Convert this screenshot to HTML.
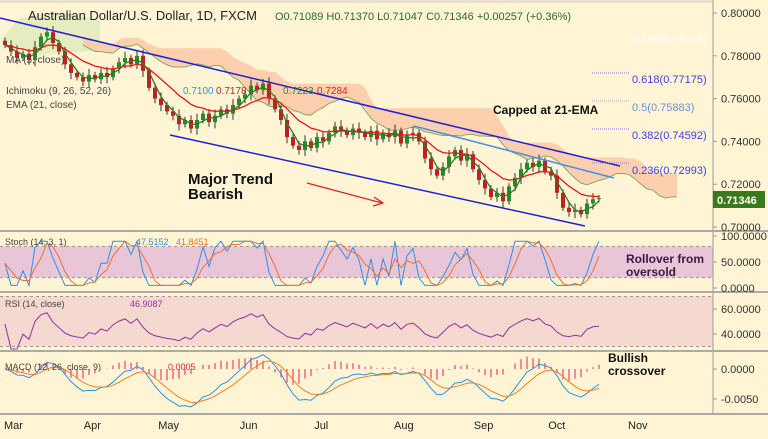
<!DOCTYPE html>
<html><head><meta charset="utf-8"><style>
body{margin:0;background:#fff5d4;font-family:"Liberation Sans",sans-serif}
svg{display:block}
</style></head><body>
<svg id="c" width="768" height="439" viewBox="0 0 768 439">
<rect x="0" y="0" width="768" height="439" fill="#fff5d4"/>
<rect x="0" y="0" width="768" height="3" fill="#e6e0cc"/>
<g id="cloud"></g>
<g id="panelBg"></g>
<g id="marks"></g>
<g id="axes"></g>
<g>
<line x1="0" y1="18" x2="620" y2="166" stroke="#2020d0" stroke-width="1.5"/>
<line x1="170" y1="135" x2="585" y2="226" stroke="#2020d0" stroke-width="1.5"/>
<line x1="414" y1="126" x2="614" y2="178" stroke="#4a90e0" stroke-width="1.5"/>
<line x1="307" y1="183" x2="382" y2="203" stroke="#e02020" stroke-width="1.3"/>
<polyline points="374,197 383,203 373,206" fill="none" stroke="#e02020" stroke-width="1.3"/>
<text x="188" y="184" font-size="15" font-weight="bold" fill="#111">Major Trend</text>
<text x="188" y="199" font-size="15" font-weight="bold" fill="#111">Bearish</text>
<text x="493" y="114" font-size="12" font-weight="bold" fill="#111">Capped at 21-EMA</text>
<text x="626" y="263" font-size="12" font-weight="bold" fill="#3a1a40">Rollover from</text>
<text x="626" y="276" font-size="12" font-weight="bold" fill="#3a1a40">oversold</text>
<text x="608" y="362" font-size="12" font-weight="bold" fill="#111">Bullish</text>
<text x="608" y="375" font-size="12" font-weight="bold" fill="#111">crossover</text>
<g font-size="11">
<text x="632" y="43" fill="#fff">0.786(0.79015)</text>
<line x1="592" y1="73" x2="629" y2="73" stroke="#8080e0" stroke-dasharray="1,1"/>
<text x="632" y="83" fill="#4040e0">0.618(0.77175)</text>
<line x1="592" y1="101" x2="629" y2="101" stroke="#a0b0e0" stroke-dasharray="1,1"/>
<text x="632" y="111" fill="#6a90e0">0.5(0.75883)</text>
<line x1="592" y1="129" x2="629" y2="129" stroke="#8080e0" stroke-dasharray="1,1"/>
<text x="632" y="139" fill="#4040e0">0.382(0.74592)</text>
<line x1="592" y1="163" x2="629" y2="163" stroke="#8080e0" stroke-dasharray="1,1"/>
<text x="632" y="174" fill="#4040e0">0.236(0.72993)</text>
</g>
</g>
<g>
<text x="28" y="20" font-size="13" fill="#222">Australian Dollar/U.S. Dollar, 1D, FXCM</text>
<text x="275" y="20" font-size="11" fill="#2a6a2a">O0.71089  H0.71370  L0.71047  C0.71346  +0.00257 (+0.36%)</text>
<text x="6" y="94" font-size="10" fill="#444">Ichimoku (9, 26, 52, 26)</text>
<text x="183" y="94" font-size="10" fill="#3090e0">0.7100</text>
<text x="216" y="94" font-size="10" fill="#a03030">0.7178</text>
<text x="283" y="94" font-size="10" fill="#2a8a2a">0.7223</text>
<text x="317" y="94" font-size="10" fill="#e02020">0.7284</text>
<text x="6" y="108" font-size="10" fill="#444">EMA (21, close)</text>
<text x="6" y="63" font-size="10" fill="#444">MA (5, close)</text>
<text x="5" y="245" font-size="9" fill="#444">Stoch (14, 3, 1)</text>
<text x="136" y="245" font-size="9" fill="#3090e0">47.5152</text>
<text x="176" y="245" font-size="9" fill="#f07020">41.8451</text>
<text x="5" y="307" font-size="9" fill="#444">RSI (14, close)</text>
<text x="130" y="307" font-size="9" fill="#9030a0">46.9087</text>
<text x="5" y="370" font-size="9" fill="#444">MACD (12, 26, close, 9)</text>
<text x="168" y="370" font-size="9" fill="#e02050">0.0005</text>
</g>
</svg>
<script>
const closes=[.785,.782,.779,.781,.778,.784,.789,.791,.786,.782,.776,.772,.770,.768,.771,.769,.772,.770,.774,.777,.779,.776,.780,.773,.765,.760,.757,.754,.752,.748,.750,.746,.750,.753,.749,.752,.755,.753,.757,.760,.762,.766,.764,.767,.760,.755,.750,.742,.738,.736,.740,.737,.742,.740,.744,.747,.745,.743,.746,.744,.742,.745,.741,.744,.742,.745,.739,.743,.744,.740,.732,.727,.724,.728,.733,.736,.731,.734,.727,.722,.718,.714,.716,.712,.719,.723,.727,.730,.728,.731,.726,.724,.716,.709,.707,.708,.706,.711,.713,.7135];
const priceTicks=[0.80,0.78,0.76,0.74,0.72,0.70];
const stochTicks=[100,50,0];
const rsiTicks=[60,40];
const macdTicks=[0,-0.005];
const months=["Mar","Apr","May","Jun","Jul","Aug","Sep","Oct","Nov"];
const monthIdx=[1,14.3,26.7,40.3,52.7,66,79.3,91.7,105];
const NS='http://www.w3.org/2000/svg';
const X=i=>5+i*6;
const Y=p=>13+(0.80-p)*2140;
const YS=v=>288-v*0.52;
const YR=v=>334-(v-40)*1.25;
const YM=v=>369-v*6000;
function el(tag,attrs,parent){const e=document.createElementNS(NS,tag);for(const k in attrs)e.setAttribute(k,attrs[k]);parent.appendChild(e);return e;}
const marksG=document.getElementById('marks'),axesG=document.getElementById('axes'),cloudG=document.getElementById('cloud'),bandG=document.getElementById('panelBg');
const n=closes.length;
function ema(a,p){const k=2/(p+1);let o=[a[0]];for(let i=1;i<a.length;i++)o.push(a[i]*k+o[i-1]*(1-k));return o;}
function hl(i,p){let h=-1,l=9;for(let j=Math.max(0,i-p+1);j<=i;j++){h=Math.max(h,closes[j]);l=Math.min(l,closes[j]);}return (h+l)/2;}
const shift=13;const cTop=[],cBot=[];
for(let i=0;i<n;i++){const a=(hl(i,5)+hl(i,13))/2,b=hl(i,26)+0.004;cTop.push([X(i+shift),Y(Math.max(a,b))]);cBot.push([X(i+shift),Y(Math.min(a,b))]);}
const ptsT=cTop.map(p=>p[0]+','+p[1]).join(' '),ptsB=cBot.slice().reverse().map(p=>p[0]+','+p[1]).join(' ');
const cg=el('polygon',{points:'0,40 20,18 60,12 100,20 100,50 40,55 0,40',fill:'#d8e8b8',opacity:'0.7'},cloudG);


const cp=el('polygon',{points:ptsT+' '+ptsB,fill:'#fbc8a8',opacity:'0.85'},cloudG);


const cl=el('polyline',{points:cBot.map(p=>p.join(',')).join(' '),fill:'none',stroke:'#8aa860','stroke-width':1},cloudG);


const b1=el('rect',{x:0,y:YS(80),width:713,height:YS(20)-YS(80),fill:'#e8c6d8'},bandG);


const b2=el('rect',{x:0,y:YR(70),width:713,height:YR(30)-YR(70),fill:'#f5d8d0'},bandG);


[YS(80),YS(20),YR(70),YR(30)].forEach(v=>{const l=el('line',{x1:0,x2:713,y1:v,y2:v,stroke:'#a09090','stroke-dasharray':'3,3'},bandG);

});
for(let i=0;i<n;i++){const o=i?closes[i-1]:closes[0]+0.002,c=closes[i];const up=c>=o;const col=up?'#2a8a2a':'#c02020';
 const w=0.0015+(i%3)*0.0007;
 const wk=el('line',{x1:X(i),x2:X(i),y1:Y(Math.max(o,c)+w),y2:Y(Math.min(o,c)-w),stroke:'#333','stroke-width':1},marksG);
 
 
 const r=el('rect',{x:X(i)-2,y:Y(Math.max(o,c)),width:4,height:Math.max(1,Math.abs(Y(o)-Y(c))),fill:col},marksG);
 
 }
const e21=ema(closes,11);
const pe=el('polyline',{points:e21.map((v,i)=>X(i)+','+Y(v)).join(' '),fill:'none',stroke:'#e81818','stroke-width':1.3},marksG);


const pt=el('polyline',{points:closes.map((v,i)=>X(i)+','+Y(hl(i,3))).join(' '),fill:'none',stroke:'#2a7a2a','stroke-width':1.3},marksG);


const K=[];for(let i=0;i<n;i++){let h=-1,l=9;for(let j=Math.max(0,i-6);j<=i;j++){h=Math.max(h,closes[j]);l=Math.min(l,closes[j]);}K.push(h>l?(closes[i]-l)/(h-l)*100:50);}
const Ks=K.map(v=>5+v*0.85);
const D=Ks.map((v,i)=>(Ks[Math.max(0,i-1)]+v+Ks[Math.max(0,i-2)])/3);
const sk=el('polyline',{points:Ks.map((v,i)=>X(i)+','+YS(v)).join(' '),fill:'none',stroke:'#3090e0'},marksG);


const sd=el('polyline',{points:D.map((v,i)=>X(i)+','+YS(v)).join(' '),fill:'none',stroke:'#f07030'},marksG);


let R=[50],ag=0,al=0;for(let i=1;i<n;i++){const d=closes[i]-closes[i-1];ag=(ag*6+Math.max(d,0))/7;al=(al*6+Math.max(-d,0))/7;R.push(al+ag>0?100*ag/(ag+al):50);}
R=R.map(v=>48+(v-50)*0.4);
const rl=el('polyline',{points:R.map((v,i)=>X(i)+','+YR(v)).join(' '),fill:'none',stroke:'#9030a0'},marksG);


const m1=ema(closes,6),m2=ema(closes,13);const M=m1.map((v,i)=>(v-m2[i])*0.9);const S=ema(M,5);
for(let i=0;i<n;i++){const h=el('line',{x1:X(i),x2:X(i),y1:YM(0),y2:YM((M[i]-S[i])*1.1),stroke:'#f04070','stroke-width':1.2},marksG);

}
const ml=el('polyline',{points:M.map((v,i)=>X(i)+','+YM(v)).join(' '),fill:'none',stroke:'#3090e0'},marksG);


const sl=el('polyline',{points:S.map((v,i)=>X(i)+','+YM(v)).join(' '),fill:'none',stroke:'#f08020'},marksG);


const ab=el('rect',{x:713,y:0,width:55,height:439,fill:'#fff5d4'},axesG);


const sep=el('line',{x1:713,x2:713,y1:0,y2:415,stroke:'#999'},axesG);


[231,292,351,414].forEach(y=>{const l=el('line',{x1:0,x2:768,y1:y,y2:y,stroke:'#aaa','stroke-width':2},axesG);

});
function tick(y,txt,name){const l=el('line',{x1:713,x2:717,y1:y,y2:y,stroke:'#999'},axesG);
 
 
 const t=el('text',{x:721,y:y+4,'font-size':11,fill:'#333'},axesG);t.textContent=txt;
 
 }
priceTicks.forEach(p=>tick(Y(p),p.toFixed(5),'price'));
stochTicks.forEach(v=>tick(YS(v),v.toFixed(4),'stoch'));
rsiTicks.forEach(v=>tick(YR(v),v.toFixed(4),'rsi'));
macdTicks.forEach(v=>tick(YM(v),v.toFixed(4),'macd'));
const pb=el('rect',{x:713,y:191,width:52,height:17,fill:'#3a7a1a'},axesG);


const pl=el('text',{x:717,y:204,'font-size':11,'font-weight':'bold',fill:'#fff'},axesG);pl.textContent='0.71346';


months.forEach((m,k)=>{const t=el('text',{x:X(monthIdx[k])-7,y:429,'font-size':11,fill:'#222'},axesG);t.textContent=m;

});
</script>
</body></html>
